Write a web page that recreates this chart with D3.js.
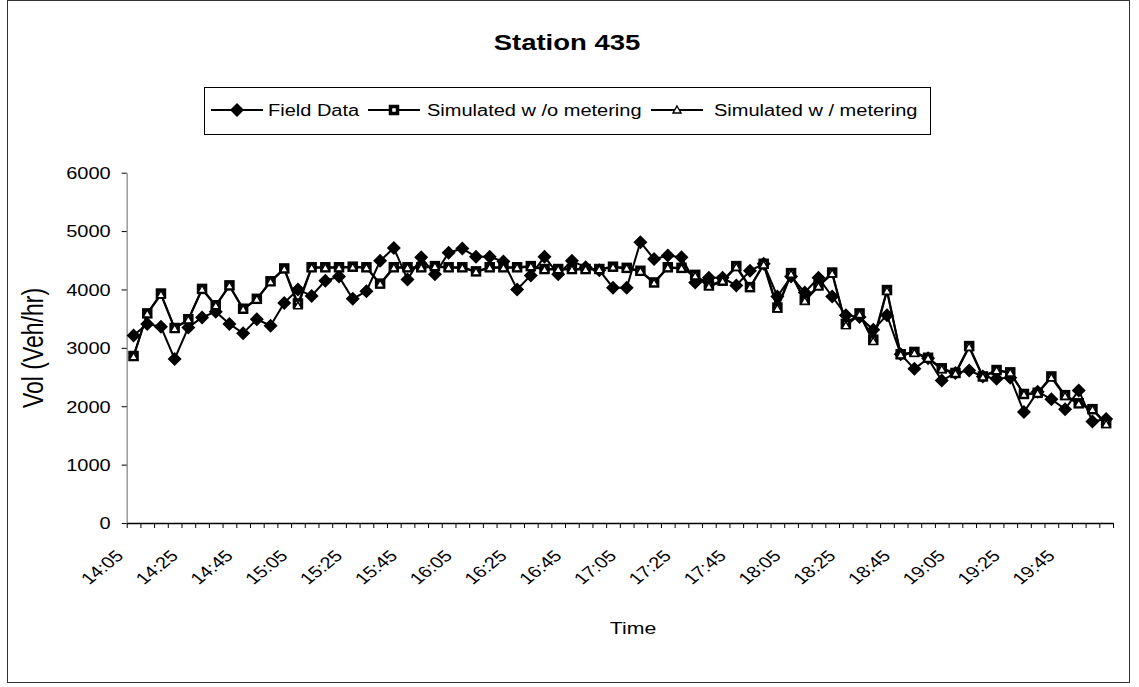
<!DOCTYPE html>
<html>
<head>
<meta charset="utf-8">
<script src="https://cdn.jsdelivr.net/npm/d3@7"></script>
<style>
  body { margin: 0; background: #fff; }
  text { font-family: Arial, "Liberation Sans", sans-serif; fill: #000; }
</style>
</head>
<body>
<div id="chart"></div>
<script>
// Time slots, 5 minutes apart
var times = ["14:05","14:10","14:15","14:20","14:25","14:30","14:35","14:40","14:45","14:50","14:55","15:00",
  "15:05","15:10","15:15","15:20","15:25","15:30","15:35","15:40","15:45","15:50","15:55","16:00",
  "16:05","16:10","16:15","16:20","16:25","16:30","16:35","16:40","16:45","16:50","16:55","17:00",
  "17:05","17:10","17:15","17:20","17:25","17:30","17:35","17:40","17:45","17:50","17:55","18:00",
  "18:05","18:10","18:15","18:20","18:25","18:30","18:35","18:40","18:45","18:50","18:55","19:00",
  "19:05","19:10","19:15","19:20","19:25","19:30","19:35","19:40","19:45","19:50","19:55","20:00"];

// Vol (Veh/hr)
var fieldData = [3210,3410,3360,2810,3350,3520,3620,3410,3250,3490,
  3380,3770,4000,3890,4150,4220,3840,3970,4490,4710,
  4170,4550,4260,4630,4700,4560,4560,4480,4000,4240,
  4560,4260,4490,4380,4330,4030,4030,4810,4520,4580,
  4550,4120,4200,4200,4070,4320,4440,3880,4220,3950,
  4200,3880,3560,3530,3310,3560,2890,2640,2820,2440,
  2570,2610,2510,2470,2490,1900,2250,2120,1950,2270,
  1740,1780];

var simNoMeter = [2860,3590,3930,3340,3490,4010,3730,4070,3670,3840,
  4140,4360,3760,4380,4380,4380,4390,4380,4100,4380,
  4380,4380,4400,4380,4380,4310,4380,4380,4380,4400,
  4350,4350,4350,4350,4350,4390,4370,4320,4120,4380,
  4370,4250,4070,4150,4400,4040,4440,3690,4280,3820,
  4070,4290,3410,3590,3140,3990,2890,2930,2830,2650,
  2570,3030,2510,2620,2580,2210,2230,2510,2190,2050,
  1950,1710];

var simMeter = [2850,3580,3910,3330,3480,4000,3720,4060,3660,3830,
  4130,4350,3720,4370,4370,4370,4380,4370,4090,4370,
  4370,4370,4390,4370,4370,4300,4370,4370,4370,4390,
  4340,4340,4340,4340,4340,4380,4360,4310,4110,4370,
  4360,4230,4050,4140,4380,4030,4420,3670,4260,3800,
  4050,4270,3380,3570,3110,3970,2880,2910,2820,2630,
  2560,3010,2500,2610,2570,2200,2220,2490,2170,2040,
  1940,1690];

var yTicks = [0, 1000, 2000, 3000, 4000, 5000, 6000];
var seriesNames = ["Field Data", "Simulated w /o metering", "Simulated w / metering"];

var width = 1139, height = 687;
var sx = 1.25;   // the picture is stretched sideways, so text is too

var svg = d3.select("#chart").append("svg")
    .attr("width", width)
    .attr("height", height);

svg.append("rect")
    .attr("width", width).attr("height", height)
    .attr("fill", "#fff");

// outer frame
svg.append("rect")
    .attr("x", 7.5).attr("y", 0.5)
    .attr("width", 1122).attr("height", 682)
    .attr("fill", "none")
    .attr("stroke", "#333");

var x = d3.scaleBand().domain(times).range([126.7, 1113]);
var xIdx = d3.scaleLinear().domain([0, times.length]).range(x.range());
var y = d3.scaleLinear().domain([0, 6000]).range([523, 172.7]);

function cx(d, i) { return x(times[i]) + x.bandwidth() / 2; }

// Title
svg.append("text")
    .attr("transform", "translate(567,50) scale(" + sx + ",1)")
    .attr("text-anchor", "middle")
    .attr("font-size", 22)
    .attr("font-weight", "bold")
    .text("Station 435");

// Y axis
var yAxis = svg.append("g")
    .attr("transform", "translate(126.7,0)")
    .call(d3.axisLeft(y).tickValues(yTicks).tickFormat(d3.format("d")).tickSize(5).tickSizeOuter(0));
yAxis.select(".domain").attr("stroke", "#999").attr("stroke-width", 1.5);
yAxis.selectAll(".tick line").attr("stroke", "#000");
yAxis.selectAll(".tick text")
    .attr("x", null)
    .attr("dy", "0.36em")
    .attr("transform", "translate(-16,0) scale(" + sx + ",1)")
    .attr("font-size", 16)
    .attr("font-family", null);

// X axis: tick marks between categories
var xAxis = svg.append("g")
    .attr("transform", "translate(0,523)")
    .call(d3.axisBottom(xIdx).tickValues(d3.range(times.length + 1)).tickFormat("").tickSize(5).tickSizeOuter(0));
xAxis.select(".domain").attr("stroke", "#000").attr("stroke-width", 1.5);

// X labels every 20 minutes
var xLab = svg.append("g")
    .attr("transform", "translate(0,523)")
    .call(d3.axisBottom(x).tickValues(times.filter(function(d, i) { return i % 4 == 0; })).tickSize(0));
xLab.select(".domain").remove();
xLab.selectAll(".tick text")
    .attr("y", null)
    .attr("dy", null)
    .attr("text-anchor", "end")
    .attr("transform", "translate(-9,34) scale(" + sx + ",1) rotate(-45)")
    .attr("font-size", 16)
    .attr("font-family", null);

// Axis titles
svg.append("text")
    .attr("transform", "translate(43,348) scale(" + sx + ",1) rotate(-90)")
    .attr("text-anchor", "middle")
    .attr("font-size", 23)
    .text("Vol (Veh/hr)");

svg.append("text")
    .attr("transform", "translate(633,634) scale(" + sx + ",1)")
    .attr("text-anchor", "middle")
    .attr("font-size", 17)
    .text("Time");

// Markers
var diamondPath = "M0,-7L7,0L0,7L-7,0Z";
var trianglePath = "M0,-4L4,3L-4,3Z";

function drawMarker(g, kind) {
    if (kind == 0) {
        g.append("path").attr("d", diamondPath).attr("fill", "#000");
    } else if (kind == 1) {
        g.append("rect")
            .attr("x", -3.5).attr("y", -3.5)
            .attr("width", 7).attr("height", 7)
            .attr("fill", "#fff")
            .attr("stroke", "#000")
            .attr("stroke-width", 3.5);
    } else {
        g.append("path").attr("d", trianglePath)
            .attr("fill", "#fff")
            .attr("stroke", "#000")
            .attr("stroke-width", 1.4);
    }
}

var line = d3.line()
    .x(cx)
    .y(function(d) { return y(d); });

var allSeries = [fieldData, simNoMeter, simMeter];

// lines
svg.append("g").selectAll("path").data(allSeries)
    .enter().append("path")
    .attr("d", line)
    .attr("fill", "none")
    .attr("stroke", "#000")
    .attr("stroke-width", 2);

// points
allSeries.forEach(function(s, k) {
    svg.append("g").selectAll("g").data(s)
        .enter().append("g")
        .attr("transform", function(d, i) { return "translate(" + cx(d, i) + "," + y(d) + ")"; })
        .each(function() { drawMarker(d3.select(this), k); });
});

// Legend
var legend = svg.append("g");
legend.append("rect")
    .attr("x", 204.5).attr("y", 87.5)
    .attr("width", 726).attr("height", 47)
    .attr("fill", "#fff")
    .attr("stroke", "#000");

var legendMarkX = [237, 394, 677];
var legendTextX = [268, 427, 714];
seriesNames.forEach(function(name, k) {
    var g = legend.append("g");
    g.append("line")
        .attr("x1", legendMarkX[k] - 26).attr("x2", legendMarkX[k] + 26)
        .attr("y1", 110).attr("y2", 110)
        .attr("stroke", "#000").attr("stroke-width", 2);
    var m = g.append("g").attr("transform", "translate(" + legendMarkX[k] + ",110)");
    drawMarker(m, k);
    g.append("text")
        .attr("transform", "translate(" + legendTextX[k] + ",116) scale(" + sx + ",1)")
        .attr("font-size", 16)
        .text(name);
});
</script>
</body>
</html>
